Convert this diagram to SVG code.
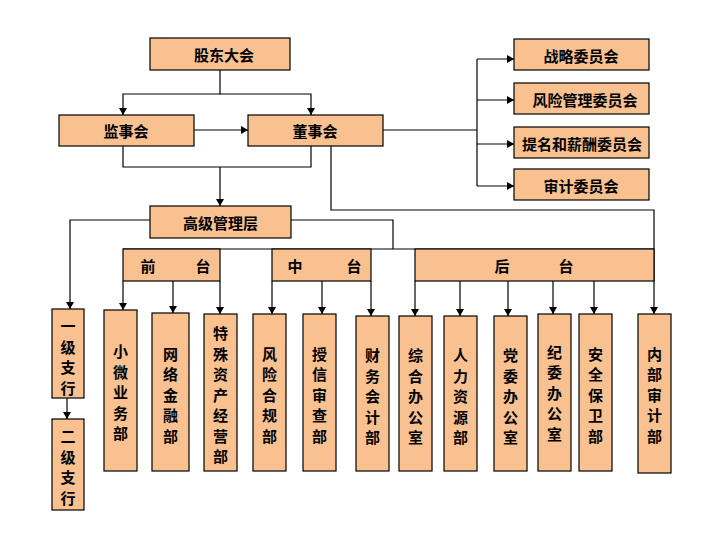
<svg xmlns="http://www.w3.org/2000/svg" width="723" height="540" viewBox="0 0 723 540">
<style>
.box{fill:#F9C090;stroke:#000;stroke-width:1.2}
.t{font-family:"Noto Sans CJK SC","Liberation Sans",sans-serif;font-size:15px;font-weight:bold;fill:#000;text-anchor:middle;dominant-baseline:central}
.ln{fill:none;stroke:#000;stroke-width:1.2}
.ar{fill:none;stroke:#000;stroke-width:1.2;marker-end:url(#arr)}
</style>
<defs>
<marker id="arr" viewBox="0 0 7 8" refX="7" refY="4" markerWidth="7" markerHeight="8" markerUnits="userSpaceOnUse" orient="auto">
<path d="M0,0 L7,4 L0,8 z" fill="#000"/>
</marker>
</defs>
<rect width="723" height="540" fill="#fff"/>
<g id="connectors">
<path class="ar" d="M220,70 V94 H123 V115"/>
<path class="ar" d="M220,94 H311 V115"/>
<path class="ar" d="M194,130 H248"/>
<path class="ln" d="M383,130 H477"/>
<path class="ln" d="M477,59 V186"/>
<path class="ar" d="M477,59 H514"/>
<path class="ar" d="M477,100 H514"/>
<path class="ar" d="M477,144 H514"/>
<path class="ar" d="M477,186 H514"/>
<path class="ln" d="M123,146 V167 H311 V146"/>
<path class="ar" d="M220,167 V206"/>
<path class="ar" d="M331,146 V210 H654 V314"/>
<path class="ar" d="M150,220 H70 V309"/>
<path class="ln" d="M291,220 H393 V249"/>
<path class="ln" d="M123,249 H654"/>
<path class="ar" d="M123,281 V310"/>
<path class="ar" d="M173,281 V313"/>
<path class="ar" d="M220,281 V314"/>
<path class="ar" d="M272,281 V314"/>
<path class="ar" d="M322,281 V314"/>
<path class="ar" d="M371,281 V316"/>
<path class="ar" d="M415,281 V316"/>
<path class="ar" d="M460,281 V316"/>
<path class="ar" d="M508,281 V316"/>
<path class="ar" d="M553,281 V314"/>
<path class="ar" d="M594,281 V314"/>
<path class="ar" d="M67,398 V419"/>
</g>
<g id="gudong"><rect class="box" x="150" y="38" width="140" height="32"/><text class="t" x="224" y="54">股东大会</text></g>
<g id="jianshi"><rect class="box" x="59" y="115" width="135" height="31"/><text class="t" x="126" y="130.5">监事会</text></g>
<g id="dongshi"><rect class="box" x="248" y="115" width="135" height="31"/><text class="t" x="315" y="130.5">董事会</text></g>
<g id="zhanlue"><rect class="box" x="514" y="39" width="135" height="31"/><text class="t" x="581" y="55">战略委员会</text></g>
<g id="fengxianwy"><rect class="box" x="514" y="83" width="135" height="31"/><text class="t" x="585" y="99">风险管理委员会</text></g>
<g id="timing"><rect class="box" x="514" y="127" width="135" height="31"/><text class="t" x="582" y="143">提名和薪酬委员会</text></g>
<g id="shenjiwy"><rect class="box" x="514" y="169" width="135" height="31"/><text class="t" x="581" y="185">审计委员会</text></g>
<g id="gaoguan"><rect class="box" x="150" y="206" width="141" height="32"/><text class="t" x="220.5" y="222">高级管理层</text></g>
<g id="qiantai"><rect class="box" x="123" y="249" width="97" height="32"/><text class="t" y="265"><tspan x="148">前</tspan><tspan x="203">台</tspan></text></g>
<g id="zhongtai"><rect class="box" x="272" y="249" width="99" height="32"/><text class="t" y="265"><tspan x="295">中</tspan><tspan x="354">台</tspan></text></g>
<g id="houtai"><rect class="box" x="415" y="249" width="239" height="32"/><text class="t" y="265"><tspan x="502">后</tspan><tspan x="566">台</tspan></text></g>
<g id="yiji"><rect class="box" x="52" y="309" width="32" height="89"/><text class="t"><tspan x="68" y="325.3">一</tspan><tspan x="68" y="345.8">级</tspan><tspan x="68" y="366.3">支</tspan><tspan x="68" y="386.8">行</tspan></text></g>
<g id="erji"><rect class="box" x="52" y="419" width="32" height="91"/><text class="t"><tspan x="68" y="435.3">二</tspan><tspan x="68" y="455.8">级</tspan><tspan x="68" y="476.3">支</tspan><tspan x="68" y="496.8">行</tspan></text></g>
<g id="xiaowei"><rect class="box" x="104" y="310" width="33" height="161"/><text class="t"><tspan x="120.5" y="350">小</tspan><tspan x="120.5" y="370.5">微</tspan><tspan x="120.5" y="391">业</tspan><tspan x="120.5" y="411.5">务</tspan><tspan x="120.5" y="432">部</tspan></text></g>
<g id="wangluo"><rect class="box" x="152" y="313" width="37" height="158"/><text class="t"><tspan x="170.5" y="352.5">网</tspan><tspan x="170.5" y="373">络</tspan><tspan x="170.5" y="393.5">金</tspan><tspan x="170.5" y="414">融</tspan><tspan x="170.5" y="434.5">部</tspan></text></g>
<g id="teshu"><rect class="box" x="204" y="314" width="33" height="157"/><text class="t"><tspan x="220.5" y="332">特</tspan><tspan x="220.5" y="352.5">殊</tspan><tspan x="220.5" y="373">资</tspan><tspan x="220.5" y="393.5">产</tspan><tspan x="220.5" y="414">经</tspan><tspan x="220.5" y="434.5">营</tspan><tspan x="220.5" y="455">部</tspan></text></g>
<g id="fengxian"><rect class="box" x="253" y="314" width="33" height="157"/><text class="t"><tspan x="269.5" y="352.5">风</tspan><tspan x="269.5" y="373">险</tspan><tspan x="269.5" y="393.5">合</tspan><tspan x="269.5" y="414">规</tspan><tspan x="269.5" y="434.5">部</tspan></text></g>
<g id="shouxin"><rect class="box" x="303" y="314" width="33" height="157"/><text class="t"><tspan x="319.5" y="352.5">授</tspan><tspan x="319.5" y="373">信</tspan><tspan x="319.5" y="393.5">审</tspan><tspan x="319.5" y="414">查</tspan><tspan x="319.5" y="434.5">部</tspan></text></g>
<g id="caiwu"><rect class="box" x="356" y="316" width="33" height="155"/><text class="t"><tspan x="372.5" y="354">财</tspan><tspan x="372.5" y="374.5">务</tspan><tspan x="372.5" y="395">会</tspan><tspan x="372.5" y="415.5">计</tspan><tspan x="372.5" y="436">部</tspan></text></g>
<g id="zonghe"><rect class="box" x="399" y="316" width="33" height="155"/><text class="t"><tspan x="415.5" y="354">综</tspan><tspan x="415.5" y="374.5">合</tspan><tspan x="415.5" y="395">办</tspan><tspan x="415.5" y="415.5">公</tspan><tspan x="415.5" y="436">室</tspan></text></g>
<g id="renli"><rect class="box" x="444" y="316" width="33" height="155"/><text class="t"><tspan x="460.5" y="354">人</tspan><tspan x="460.5" y="374.5">力</tspan><tspan x="460.5" y="395">资</tspan><tspan x="460.5" y="415.5">源</tspan><tspan x="460.5" y="436">部</tspan></text></g>
<g id="dangwei"><rect class="box" x="494" y="316" width="33" height="155"/><text class="t"><tspan x="510.5" y="354">党</tspan><tspan x="510.5" y="374.5">委</tspan><tspan x="510.5" y="395">办</tspan><tspan x="510.5" y="415.5">公</tspan><tspan x="510.5" y="436">室</tspan></text></g>
<g id="jiwei"><rect class="box" x="538" y="314" width="33" height="157"/><text class="t"><tspan x="554.5" y="350.5">纪</tspan><tspan x="554.5" y="371">委</tspan><tspan x="554.5" y="391.5">办</tspan><tspan x="554.5" y="412">公</tspan><tspan x="554.5" y="432.5">室</tspan></text></g>
<g id="anquan"><rect class="box" x="579" y="314" width="33" height="157"/><text class="t"><tspan x="595.5" y="352.5">安</tspan><tspan x="595.5" y="373">全</tspan><tspan x="595.5" y="393.5">保</tspan><tspan x="595.5" y="414">卫</tspan><tspan x="595.5" y="434.5">部</tspan></text></g>
<g id="neibu"><rect class="box" x="638" y="314" width="33" height="159"/><text class="t"><tspan x="654.5" y="352.5">内</tspan><tspan x="654.5" y="373">部</tspan><tspan x="654.5" y="393.5">审</tspan><tspan x="654.5" y="414">计</tspan><tspan x="654.5" y="434.5">部</tspan></text></g>
</svg>
